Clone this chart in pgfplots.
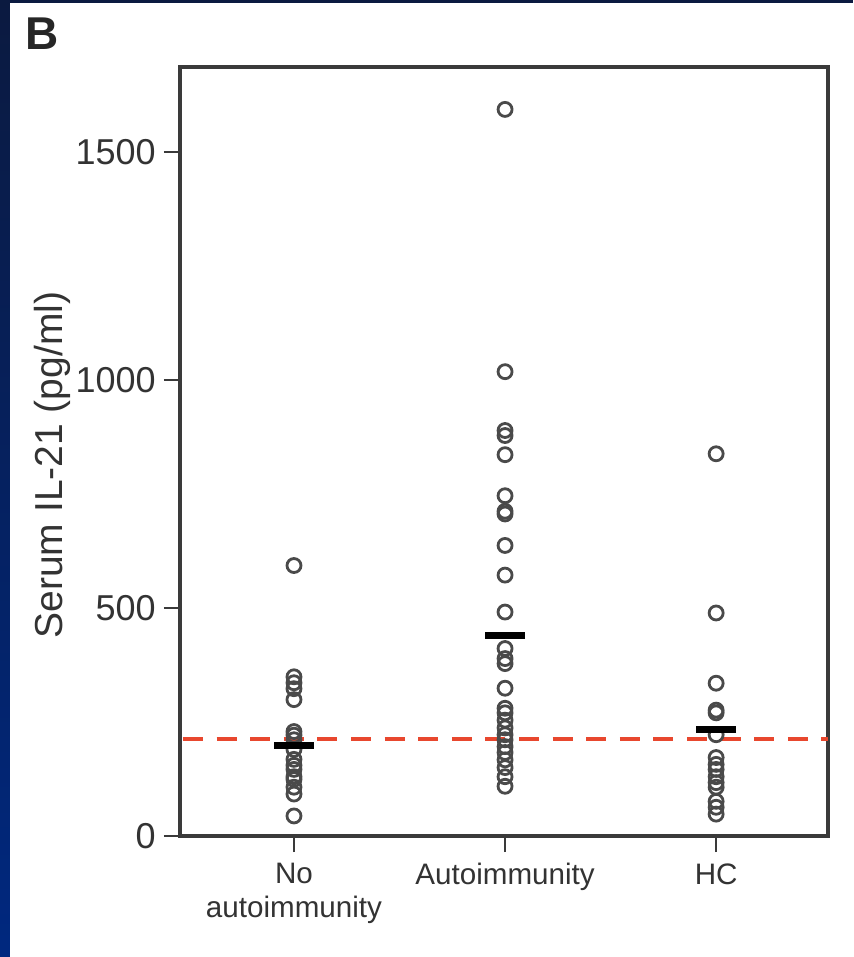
\documentclass[border=0pt]{standalone}
\usepackage{fontspec}
\setmainfont{Liberation Sans}
\usepackage{pgfplots}
\pgfplotsset{compat=1.18}
\usetikzlibrary{calc}
\pgfdeclarelayer{bg}
\pgfsetlayers{bg,main}

\definecolor{navytop}{HTML}{0B1A40}
\definecolor{navybot}{HTML}{00287F}
\definecolor{axisgray}{HTML}{3A3A3A}
\definecolor{markgray}{HTML}{4A4A4A}
\definecolor{cutoffred}{HTML}{E8472E}
\definecolor{textgray}{HTML}{333333}

\begin{document}
\begin{tikzpicture}
\begin{axis}[
    scale only axis, width=324pt, height=384.5pt,
    xmin=-0.54, xmax=2.53,
    ymin=0, ymax=1686,
    axis line style={axisgray, line width=1.6pt},
    tick align=outside, tick pos=left,
    major tick length=8pt,
    tick style={axisgray, line width=0.9pt},
    xtick={0,1,2},
    xticklabels={{No\\autoimmunity},{Autoimmunity},{HC}},
    ytick={0,500,1000,1500},
    tick label style={inner sep=1pt},
    xticklabel shift=4.5pt,
    yticklabel shift=3pt,
    xticklabel style={align=center, text=textgray,
        font=\fontsize{14.8}{17}\selectfont},
    yticklabel style={text=textgray, font=\fontsize{18}{20}\selectfont},
    /pgf/number format/assume math mode=true,
    /pgf/number format/1000 sep={},
    ylabel={Serum IL-21 (pg/ml)},
    ylabel style={at={(axis description cs:-0.197,0.4824)}, anchor=center,
        text=textgray, font=\fontsize{19.5}{22}\selectfont},
]
\coordinate (sw) at (rel axis cs:0,0);
% cut-off line
\addplot[cutoffred, line width=2.1pt, dash pattern=on 10pt off 6.8pt,
    dash phase=15.3pt, forget plot] coordinates {(-0.54,213) (2.53,213)};

% No autoimmunity
\addplot[only marks, mark=o, mark size=3.5pt,
    mark options={markgray, line width=1.4pt}] coordinates {
    (0,593) (0,349) (0,336) (0,323) (0,299) (0,229) (0,221) (0,211)
    (0,190) (0,168) (0,155) (0,146) (0,130) (0,124) (0,107) (0,92) (0,44)
};
% Autoimmunity
\addplot[only marks, mark=o, mark size=3.5pt,
    mark options={markgray, line width=1.4pt}] coordinates {
    (1,1593) (1,1018) (1,889) (1,878) (1,836) (1,746) (1,712) (1,706)
    (1,637) (1,572) (1,491) (1,411) (1,389) (1,378) (1,324) (1,280)
    (1,270) (1,254) (1,237) (1,222) (1,211) (1,196) (1,183) (1,167)
    (1,150) (1,130) (1,109)
};
% HC
\addplot[only marks, mark=o, mark size=3.5pt,
    mark options={markgray, line width=1.4pt}] coordinates {
    (2,838) (2,489) (2,335) (2,276) (2,270) (2,222) (2,172) (2,157)
    (2,146) (2,130) (2,117) (2,107) (2,76) (2,63) (2,48)
};

% group means
\addplot[only marks, mark=-, mark size=10pt,
    mark options={black, line width=3.5pt}] coordinates {
    (0,198) (1,439) (2,233)
};
\end{axis}

% slide background: white panel with a thin navy edge
\begin{pgfonlayer}{bg}
\fill[white] ($(sw)+(-90pt,-60.5pt)$) rectangle ($(sw)+(336.5pt,418pt)$);
\shade[top color=navytop, bottom color=navybot]
    ($(sw)+(-90pt,-60.5pt)$) rectangle ($(sw)+(-85pt,418pt)$);
\fill[navytop] ($(sw)+(-90pt,416.5pt)$) rectangle ($(sw)+(336.5pt,418pt)$);
\end{pgfonlayer}
\node[anchor=base west, inner sep=0, text=black!85,
      font=\fontsize{23}{27}\selectfont\bfseries] at ($(sw)+(-77.5pt,393pt)$) {B};
\pgfresetboundingbox
\useasboundingbox ($(sw)+(-90pt,-60.5pt)$) rectangle ($(sw)+(336.5pt,418pt)$);
\end{tikzpicture}
\end{document}
